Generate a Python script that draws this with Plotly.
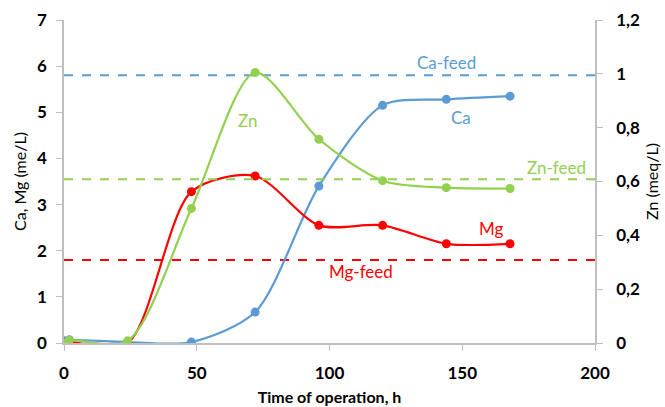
import plotly.graph_objects as go

time_h = [0, 2, 24, 48, 72, 96, 120, 144, 168]
ca = [0.05, 0.07, 0.02, 0.02, 0.67, 3.4, 5.15, 5.28, 5.35]
mg = [0.0, 0.02, 0.0, 3.28, 3.62, 2.55, 2.55, 2.15, 2.15]
zn = [0.0, 0.01, 0.008, 0.50, 1.005, 0.757, 0.603, 0.577, 0.574]

ca_feed = 5.8
mg_feed = 1.8
zn_feed = 0.608

feed_x = [0, 200]

C_CA = "#5B9BD5"
C_MG = "#FF0000"
C_ZN = "#92D050"
FONT = "Lato"

fig = go.Figure()
fig.add_trace(go.Scatter(x=feed_x, y=[ca_feed]*2, mode="lines",
                         line=dict(color=C_CA, width=2, dash="dash"), showlegend=False))
fig.add_trace(go.Scatter(x=feed_x, y=[mg_feed]*2, mode="lines",
                         line=dict(color=C_MG, width=2, dash="dash"), showlegend=False))
fig.add_trace(go.Scatter(x=feed_x, y=[zn_feed]*2, mode="lines", yaxis="y2",
                         line=dict(color=C_ZN, width=2, dash="dash"), showlegend=False))
fig.add_trace(go.Scatter(x=time_h, y=ca, mode="lines+markers",
                         line=dict(color=C_CA, width=2.2, shape="spline", smoothing=0.8),
                         marker=dict(size=9, color=C_CA), showlegend=False))
fig.add_trace(go.Scatter(x=time_h, y=zn, mode="lines+markers", yaxis="y2",
                         line=dict(color=C_ZN, width=2.2, shape="spline", smoothing=0.8),
                         marker=dict(size=9, color=C_ZN), showlegend=False))
fig.add_trace(go.Scatter(x=time_h, y=mg, mode="lines+markers",
                         line=dict(color=C_MG, width=2.2, shape="spline", smoothing=0.8),
                         marker=dict(size=9, color=C_MG), showlegend=False))

labels = [
    ("Ca-feed", 144, 6.08, C_CA),
    ("Ca", 149.5, 4.89, C_CA),
    ("Zn-feed", 185.6, 3.81, C_ZN),
    ("Mg", 161, 2.49, C_MG),
    ("Mg-feed", 112, 1.54, C_MG),
    ("Zn", 69.3, 4.83, C_ZN),
]
for t, x, y, c in labels:
    fig.add_annotation(x=x, y=y, text=t, showarrow=False,
                       font=dict(family=FONT, size=17, color=c))

axis_common = dict(showgrid=False, zeroline=False, showline=True, linecolor="#BFBFBF",
                   linewidth=1.5, ticks="outside", tickcolor="#BFBFBF", ticklen=6,
                   automargin=False,
                   tickfont=dict(family=FONT, size=17, color="#000000", weight="bold"))

fig.update_layout(
    width=665, height=407,
    margin=dict(l=64, r=70, t=20, b=64),
    plot_bgcolor="white", paper_bgcolor="white",
    xaxis=dict(range=[0, 200], tickvals=[0, 50, 100, 150, 200], **axis_common,
               ticklabelstandoff=8,
               title=dict(text="Time of operation, h", standoff=10,
                          font=dict(family=FONT, size=16, color="#000000", weight="bold"))),
    yaxis=dict(range=[0, 7], tickvals=[0, 1, 2, 3, 4, 5, 6, 7], **axis_common,
               ticklabelstandoff=6,
               title=dict(text="Ca, Mg (me/L)", standoff=6,
                          font=dict(family=FONT, size=16, color="#000000"))),
    yaxis2=dict(range=[0, 1.2], tickvals=[0, 0.2, 0.4, 0.6, 0.8, 1.0, 1.2],
                ticktext=["0", "0,2", "0,4", "0,6", "0,8", "1", "1,2"],
                overlaying="y", side="right", **axis_common,
                ticklabelstandoff=10,
                title=dict(text="Zn (meq/L)", standoff=8,
                           font=dict(family=FONT, size=16, color="#000000"))),
)

fig.write_html("out.html")
